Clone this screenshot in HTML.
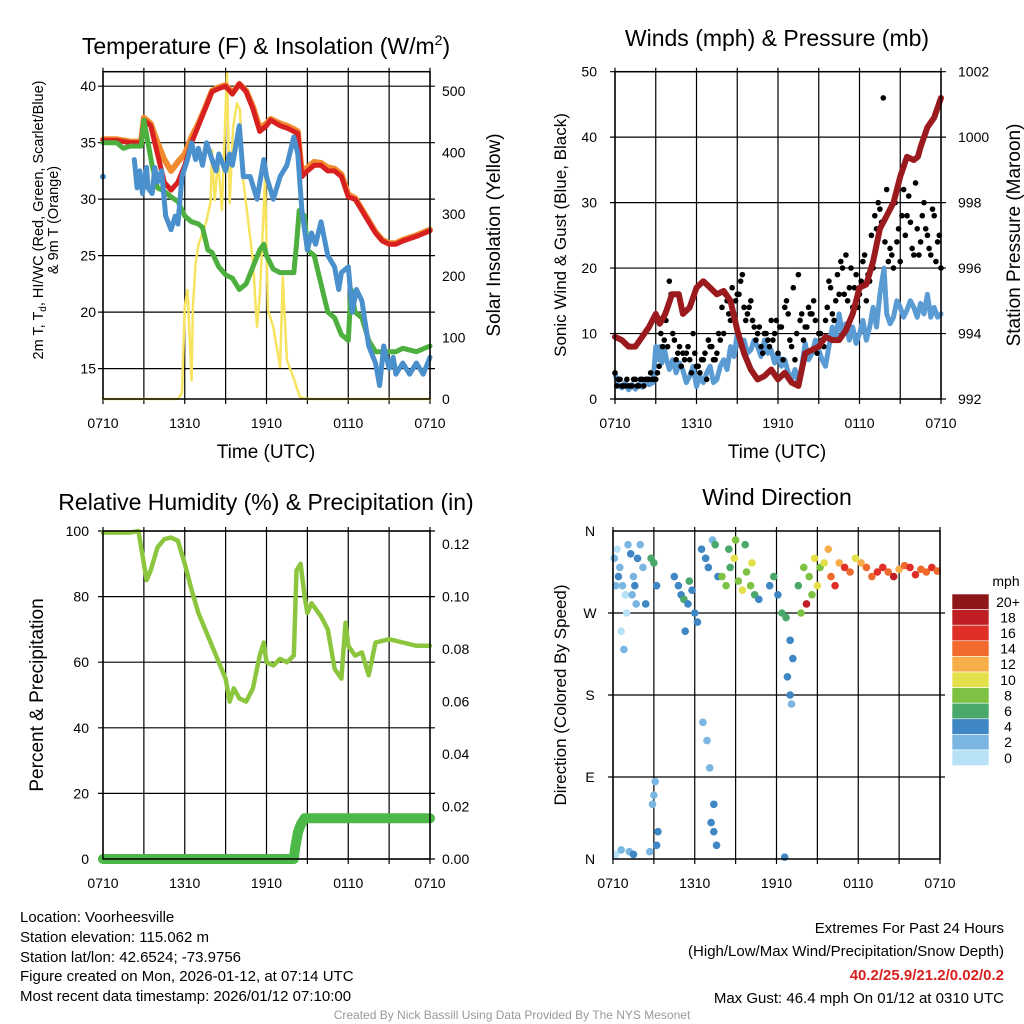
<!DOCTYPE html>
<html><head><meta charset="utf-8">
<style>
html,body{margin:0;padding:0;background:#fff;}
svg{display:block;font-family:"Liberation Sans",sans-serif;}
</style></head>
<body>
<svg id="fig" width="1024" height="1024" viewBox="0 0 1024 1024" xmlns="http://www.w3.org/2000/svg">
<rect width="1024" height="1024" fill="#fff"/>
<text x="266" y="54" font-size="23" text-anchor="middle">Temperature (F) &amp; Insolation (W/m<tspan font-size="14" dy="-9">2</tspan><tspan dy="9">)</tspan></text>
<text x="777" y="46" font-size="23" text-anchor="middle">Winds (mph) &amp; Pressure (mb)</text>
<text x="266" y="510" font-size="23" text-anchor="middle">Relative Humidity (%) &amp; Precipitation (in)</text>
<text x="777" y="505" font-size="23" text-anchor="middle">Wind Direction</text>
<text x="266" y="458" font-size="19" text-anchor="middle">Time (UTC)</text>
<text x="777" y="458" font-size="19" text-anchor="middle">Time (UTC)</text>
<text transform="translate(43,220) rotate(-90)" font-size="14.5" text-anchor="middle">2m T, T<tspan font-size="10" dy="3">d</tspan><tspan dy="-3">, HI/WC (Red, Green, Scarlet/Blue)</tspan></text>
<text transform="translate(58,220) rotate(-90)" font-size="14.5" text-anchor="middle">&amp; 9m T (Orange)</text>
<text transform="translate(500,235) rotate(-90)" font-size="19" text-anchor="middle">Solar Insolation (Yellow)</text>
<text transform="translate(566,235) rotate(-90)" font-size="17" text-anchor="middle">Sonic Wind &amp; Gust (Blue, Black)</text>
<text transform="translate(1020,235) rotate(-90)" font-size="19" text-anchor="middle">Station Pressure (Maroon)</text>
<text transform="translate(43,695) rotate(-90)" font-size="19" text-anchor="middle">Percent &amp; Precipitation</text>
<text transform="translate(566,695) rotate(-90)" font-size="17" text-anchor="middle">Direction (Colored By Speed)</text>
<g font-size="15">
<text x="20" y="922">Location: Voorheesville</text>
<text x="20" y="942">Station elevation: 115.062 m</text>
<text x="20" y="962">Station lat/lon: 42.6524; -73.9756</text>
<text x="20" y="981">Figure created on Mon, 2026-01-12, at 07:14 UTC</text>
<text x="20" y="1001">Most recent data timestamp: 2026/01/12 07:10:00</text>
</g>
<g font-size="15" text-anchor="end">
<text x="1004" y="933">Extremes For Past 24 Hours</text>
<text x="1004" y="956">(High/Low/Max Wind/Precipitation/Snow Depth)</text>
<text x="1004" y="980" fill="#d7201f" font-weight="bold">40.2/25.9/21.2/0.02/0.2</text>
<text x="1004" y="1003">Max Gust: 46.4 mph On 01/12 at 0310 UTC</text>
</g>
<text x="512" y="1019" font-size="12" fill="#999" text-anchor="middle">Created By Nick Bassill Using Data Provided By The NYS Mesonet</text>
</svg>
<script>
// ---- Temperature panel data ----
const redT = [0,35.2, 1,35.2, 2,35.0, 2.8,35.0, 3,37.0, 3.5,36.5, 4,34.0, 4.5,31.5, 5,30.8, 5.5,31.5, 6,33.0, 6.5,35.0, 7,36.5, 7.5,38.0, 8,39.5, 8.5,39.8, 9,40.0, 9.5,39.3, 10,40.2, 10.5,39.5, 11,38.0, 11.5,36.0, 12,36.5, 12.3,37.0, 13,36.5, 13.5,36.3, 14,36.0, 14.3,35.8, 14.6,32.0, 15,32.5, 15.5,33.0, 16,33.0, 16.5,32.5, 17,32.5, 17.5,32.0, 18,30.2, 18.5,30.0, 19,29.0, 19.5,28.0, 20,27.0, 20.5,26.3, 21,26.0, 21.5,26.0, 22,26.3, 23,26.7, 24,27.2];
const orangeT = [0,35.3, 1,35.3, 2,35.1, 2.8,35.1, 3,37.2, 3.5,36.7, 4,35.0, 4.5,33.5, 5,32.5, 5.5,33.3, 6,34.0, 6.5,35.5, 7,36.7, 7.5,38.1, 8,39.6, 8.5,39.9, 9,40.1, 9.5,39.4, 10,40.2, 10.5,39.6, 11,38.2, 11.5,36.3, 12,36.7, 12.3,37.1, 13,36.7, 13.5,36.5, 14,36.2, 14.3,36.0, 14.6,32.3, 15,32.8, 15.5,33.3, 16,33.2, 16.5,32.8, 17,32.7, 17.5,32.2, 18,30.4, 18.5,30.1, 19,29.1, 19.5,28.1, 20,27.1, 20.5,26.4, 21,26.1, 21.5,26.1, 22,26.4, 23,26.8, 24,27.3];
const greenTd = [0,35.0, 1,35.0, 1.5,34.5, 2,34.7, 2.8,34.7, 3,37.0, 3.3,35.0, 3.6,33.0, 4,31.0, 4.5,30.7, 5,30.2, 5.5,29.8, 6,28.5, 6.5,28.0, 7,27.8, 7.3,27.5, 7.7,25.5, 8,25.3, 8.5,24.0, 9,23.3, 9.5,23.0, 10,22.0, 10.5,22.5, 11,24.0, 11.5,25.5, 11.8,26.0, 12,25.0, 12.5,23.8, 13,23.5, 13.5,23.5, 14,23.5, 14.2,26.0, 14.4,29.0, 14.8,28.5, 15,25.5, 15.5,25.0, 16,22.5, 16.5,20.0, 17,19.5, 17.5,18.0, 18,17.5, 18.2,22.0, 18.5,20.0, 19,19.5, 19.5,17.5, 20,16.5, 20.5,16.5, 21,16.5, 21.5,16.5, 22,16.8, 23,16.5, 24,17.0];
const blueHI = [2.3,33.5, 2.5,31.0, 2.7,32.5, 2.9,30.5, 3,31.5, 3.2,32.8, 3.3,31.0, 3.6,30.5, 3.8,32.8, 4,31.5, 4.3,32.5, 4.6,28.5, 5,27.3, 5.3,28.5, 5.5,27.8, 5.8,32.0, 6.2,33.5, 6.5,35.0, 6.8,33.5, 7,34.5, 7.3,33.0, 7.6,35.0, 8,33.5, 8.3,32.5, 8.5,34.0, 9,32.5, 9.3,34.0, 9.5,33.0, 10,36.5, 10.3,32.0, 10.8,32.0, 11.3,30.0, 11.8,33.5, 12,32.0, 12.5,30.0, 13,32.0, 13.5,33.0, 14,35.5, 14.3,34.0, 14.6,29.0, 15,25.5, 15.3,27.0, 15.6,26.0, 16,28.0, 16.5,25.0, 17,24.0, 17.3,22.0, 17.5,23.5, 18,24.0, 18.3,20.0, 18.6,22.0, 19,21.0, 19.5,17.0, 20,15.5, 20.3,13.5, 20.6,17.0, 21,15.0, 21.3,16.0, 21.5,14.5, 22,15.5, 22.5,14.5, 23,15.5, 23.5,14.5, 24,16.0];
const blueHIStart = [0, 32.0];
const solar = [0,0, 5.5,0, 5.8,10, 6.0,150, 6.2,177, 6.5,30, 6.6,150, 6.8,220, 7.0,250, 7.3,270, 7.6,290, 7.9,320, 8.0,404, 8.2,323, 8.45,388, 8.73,307, 9.1,530, 9.3,318, 9.55,441, 9.83,480, 10.05,470, 10.27,360, 11.0,225, 11.3,117, 11.52,172, 11.9,360, 12.1,145, 12.5,117, 13.0,52, 13.2,198, 13.5,63, 13.95,36, 14.46,3, 15,0, 24,0];
const tempTicks = [15,20,25,30,35,40];
const solarTicks = [0,100,200,300,400,500];
const timeTickLabels = ["0710","1310","1910","0110","0710"];

// ---- Winds panel data ----
const pressure = [0,993.9, 0.5,993.8, 1,993.6, 1.5,993.6, 2,993.9, 2.5,994.2, 3,994.6, 3.3,994.3, 3.7,994.6, 4.2,995.2, 4.7,995.2, 5,994.6, 5.5,994.8, 6,995.4, 6.5,995.6, 7,995.4, 7.5,995.2, 8,995.3, 8.5,995.0, 9,994.1, 9.5,993.4, 10,992.9, 10.5,992.6, 11,992.7, 11.5,992.9, 12,992.6, 12.5,992.8, 13,992.5, 13.5,992.4, 14,993.4, 14.5,993.5, 15,993.6, 15.5,993.9, 16,993.8, 16.5,993.8, 17,994.1, 17.5,994.6, 18,995.4, 18.5,995.5, 19,996.2, 19.5,997.2, 20,997.6, 20.5,998.0, 21,998.8, 21.5,999.4, 22,999.3, 22.3,999.4, 22.5,999.7, 23,1000.3, 23.5,1000.6, 24,1001.2];
const windSpd = [0,3.9, 0.25,2, 0.5,1.7, 0.75,2.5, 1,1.4, 1.25,2.2, 1.5,1.5, 1.75,2.3, 2,1.8, 2.25,2.8, 2.5,2.2, 2.8,2.5, 3,8, 3.15,6, 3.3,8, 3.45,5.5, 3.6,8, 3.8,6, 4,4.5, 4.25,6, 4.5,4, 4.75,5.5, 5,4.4, 5.25,2.5, 5.5,3.5, 5.75,5, 6,1.9, 6.25,3.5, 6.5,2.5, 6.75,4, 7,5, 7.25,2.5, 7.5,3, 7.75,5, 8,6, 8.25,4.5, 8.5,8, 8.75,6.5, 9,10, 9.25,8, 9.5,9, 9.75,7, 10,7.5, 10.25,9, 10.5,8, 10.75,6.5, 11,9, 11.25,7, 11.5,7.5, 11.75,5.5, 12,7, 12.25,5, 12.5,6, 12.75,4, 13,3, 13.25,4.5, 13.5,2.4, 13.75,5, 14,8.5, 14.25,6, 14.5,7, 14.75,9, 15,7.5, 15.25,6, 15.5,5, 15.75,8, 16,11, 16.25,9, 16.5,13, 16.75,10, 17,11.5, 17.25,9, 17.5,11, 17.75,8.5, 18,10, 18.25,12, 18.5,9, 18.75,11, 19,14, 19.25,11, 19.5,16, 19.8,20, 20,13, 20.25,11.5, 20.5,12.5, 20.75,15, 21,14, 21.25,12.5, 21.5,13.6, 21.75,15, 22,14, 22.25,12.5, 22.5,14.6, 22.75,13, 23,16, 23.25,12.5, 23.5,14, 23.75,12.5, 24,13];
const gustA = [4,3,2,2,2,2,3,2,3, 3,3,3,3,5,8, 12,18,10,6,8,7, 7,6,10,5,4,6,3,8, 6,7,9,10,15,12,13,16, 18,14,13,15,11,10,8,10, 9,12,10,7,11,14,13,8, 6,19,13,11,14,13,12,10, 9,12,18,13,15,16,20,22, 17,14,19,16,21,15,18,20, 26,29,46,32,23,20,24,21, 32,28,27,22,26,24,30,25, 22,28,24,20];
const gustB = [2,3,2,3,2,3,2,3, 2,3,4,3,4,10, 9,8,16,9,7,5, 6,8,4,7,5,6,7,9, 8,6,10,14,16,13,17,15, 16,19,12,14,12,9,11,7, 10,8,9,12,11,6,15,9, 17,10,12,9,11,13,15,7, 10,8,14,17,12,19,21,16, 15,20,17,14,18,22,19,25, 28,30,27,24,21,22,30,26, 28,25,31,23,33,22,28,26, 23,29,21,25];
const windTicks = [0,10,20,30,40,50];
const pressTicks = [992,994,996,998,1000,1002];

// ---- RH panel data ----
const rh = [0,99.5, 1,99.5, 2,99.5, 2.6,100, 3,90, 3.2,85, 3.5,88, 4,95, 4.5,97.5, 5,98, 5.5,97, 6,90, 6.5,82, 7,75, 7.5,70, 8,65, 8.5,60, 9,55, 9.3,48, 9.6,52, 10,49, 10.5,48, 11,52, 11.5,62, 11.8,66, 12,60, 12.5,59, 13,61, 13.5,60, 14,62, 14.2,88, 14.5,90, 14.8,80, 15,75, 15.3,78, 16,74, 16.5,70, 17,58, 17.5,55, 17.8,72, 18,65, 18.5,62, 19,63, 19.5,56, 20,66, 21,67, 22,66, 23,65, 24,65];
const precip = [0,0, 14.0,0, 14.1,0.004, 14.3,0.01, 14.5,0.013, 14.8,0.0155, 24,0.0155];
const rhTicks = [0,20,40,60,80,100];
const precipTicks = [0,0.02,0.04,0.06,0.08,0.10,0.12];

// ---- Wind direction panel data ----
const dirTimes = [0.1,0.3,0.5,0.7,0.9,1.1,1.3,1.5,1.7,0.6,0.8,1.0,0.4,0.2,1.4,1.6,1.8,2.0,2.2,2.4,0.2,0.6,1.2,1.5, 2.8,3.0,3.2,3.1,2.9,3.3,2.7,3.0,3.2, 4.5,4.8,5.0,5.2,5.5,5.8,6.0,6.2,5.3,5.6, 6.5,6.8,7.0,7.3,7.5,7.7,6.6,6.9,7.2,7.4,7.6,7.1,7.4, 8.0,8.3,8.6,8.9,9.2,9.5,9.8,10.1,10.4,10.7,8.5,9.0,9.7,10.2, 11.5,11.8,12.1,12.4,12.7,12.6,13.0,13.2,13.0,13.1,12.8, 13.6,14.0,14.4,14.8,15.2,15.5,15.8,16.0,16.3,14.2,14.6,15.0,13.8, 16.6,17.0,17.4,17.8,18.2,18.6,19.0,19.4,19.8,20.2,20.6,21.0,21.4,21.8,22.2,22.6,23.0,23.4,23.8];
const dirValues = [330,340,320,300,290,345,335,310,280,250,230,270,310,300,290,300,330,345,320,280,5,10,8,5, 330,325,300,85,60,30,8,70,15, 310,300,290,285,280,295,270,260,250,305, 340,330,320,350,345,310,150,130,40,30,15,100,60, 310,300,320,330,305,295,315,300,290,285,340,350,345,325, 300,310,290,270,265,2,240,220,180,170,200, 300,320,310,330,320,325,340,310,300,280,290,300,270, 325,320,315,330,325,320,310,315,320,315,310,318,322,320,312,318,315,320,316];
const dirSpeeds = [1,0,2,1,0,2,3,1,2,0,1,0,3,1,2,3,4,2,1,3,0,1,2,3, 5,6,4,2,1,3,2,1,4, 4,3,4,5,3,4,3,4,4,5, 4,3,4,2,5,4,1,1,3,4,3,2,4, 7,8,6,9,8,10,7,8,6,4,6,7,5,9, 4,5,3,6,5,3,4,3,3,2,4, 6,8,7,9,8,10,12,14,16,18,8,10,7, 12,16,14,10,12,14,13,15,16,14,18,12,14,15,16,14,13,16,14];
const dirTickLabels = ["N","E","S","W","N"];
const speedBins = ["0","2","4","6","8","10","12","14","16","18","20+"];
const speedColors = ["#b7e1f7","#7bb6e2","#3e86c4","#49a86a","#7dc242","#e3e04a","#f7ad48","#ef6a2c","#df2f27","#be1e24","#8e1518"];

// ---- drawing ----
const NS = "http://www.w3.org/2000/svg";
const svg = document.getElementById("fig");
function mk(tag, attrs, parent) {
  const e = document.createElementNS(NS, tag);
  for (const k in attrs) e.setAttribute(k, attrs[k]);
  (parent || svg).appendChild(e);
  return e;
}
function panel(x0, y0, w, h) {
  return {x0, y0, w, h, x: t => x0 + t / 24 * w};
}
function lin(v0, v1, p0, p1) { return v => p0 + (v - v0) / (v1 - v0) * (p1 - p0); }
function pathFrom(arr, xf, yf) {
  let d = "";
  for (let i = 0; i < arr.length; i += 2) d += (i ? "L" : "M") + xf(arr[i]).toFixed(1) + "," + yf(arr[i + 1]).toFixed(1);
  return d;
}
function frame(P, name, hLines) {
  const g = mk("g", {});
  
  
  for (let i = 0; i <= 8; i++) {
    const x = P.x0 + i * P.w / 8;
    mk("line", {x1: x, x2: x, y1: P.y0 - 4, y2: P.y0 + P.h + 5, stroke: "#000", "stroke-width": 1.2}, g);
  }
  hLines.forEach(y => mk("line", {x1: P.x0 - 5, x2: P.x0 + P.w + 5, y1: y, y2: y, stroke: "#000", "stroke-width": 1.2}, g));
  for (let i = 0; i < 5; i++) {
    const t = mk("text", {x: P.x0 + i * P.w / 4, y: P.y0 + P.h + 29, "font-size": 14, "text-anchor": "middle"});
    
    
    t.textContent = timeTickLabels[i];
  }
  return g;
}
function border(P, name) {
  const r = mk("rect", {x: P.x0, y: P.y0, width: P.w, height: P.h, fill: "none", stroke: "#000", "stroke-width": 1.5});
  
  
}
function yLabels(vals, yf, x, anchor, name, fmt) {
  vals.forEach(v => {
    const t = mk("text", {x: x, y: yf(v) + 5, "font-size": 14, "text-anchor": anchor});
    
    
    t.textContent = fmt ? fmt(v) : v;
  });
}
function series(arr, xf, yf, color, width, name, extra) {
  const p = mk("path", Object.assign({d: pathFrom(arr, xf, yf), fill: "none", stroke: color, "stroke-width": width, "stroke-linejoin": "round", "stroke-linecap": "round"}, extra || {}));
  
  
  return p;
}

// Panel 1: temperature
const P1 = panel(103, 71.7, 327, 327.3);
const yT = lin(15, 40, 368.6, 86.2);
const yS = lin(0, 500, 399, 91);
frame(P1, "temp", tempTicks.map(yT));
series(solar, P1.x, yS, "#f7e35e", 2.5, "solar-insolation-line");
series(orangeT, P1.x, yT, "#f28a30", 6, "temp-9m-line");
series(redT, P1.x, yT, "#d7201f", 5, "temp-2m-line");
series(greenTd, P1.x, yT, "#4caf3e", 5, "dewpoint-line");
series(blueHI, P1.x, yT, "#4a90cd", 5, "heat-index-windchill-line");
{
  const c = mk("circle", {cx: P1.x(blueHIStart[0]), cy: yT(blueHIStart[1]), r: 3, fill: "#4a90cd"});
  
  
}
border(P1, "temp");
yLabels(tempTicks, yT, 96, "end", "temp-y-tick-label");
yLabels(solarTicks, yS, 442, "start", "solar-y-tick-label");

// Panel 2: winds
const P2 = panel(615, 71.7, 326, 327.3);
const yW = lin(0, 50, 399, 71.7);
const yP = lin(992, 1002, 399, 71.7);
frame(P2, "winds", windTicks.map(yW));
series(windSpd, P2.x, yW, "#5a9bd4", 5, "sonic-wind-line");
gustA.forEach((v, i) => {
  const c = mk("circle", {cx: P2.x(i * 0.25), cy: yW(v), r: 2.8, fill: "#000"});
  
  
});
gustB.forEach((v, i) => {
  const c = mk("circle", {cx: P2.x(0.125 + i * 0.25), cy: yW(v), r: 2.8, fill: "#000"});
  
  
});
series(pressure, P2.x, yP, "#9b1a1e", 6, "pressure-line");
border(P2, "winds");
yLabels(windTicks, yW, 597, "end", "wind-y-tick-label");
yLabels(pressTicks, yP, 958, "start", "pressure-y-tick-label");

// Panel 3: RH
const P3 = panel(103, 531, 327, 328);
const yR = lin(0, 100, 859, 531);
const yPr = lin(0, 0.12, 859, 544);
frame(P3, "rh", rhTicks.map(yR));
series(rh, P3.x, yR, "#8cc63f", 4.5, "relative-humidity-line");
series(precip, P3.x, yPr, "#4cb847", 10, "precipitation-line");
border(P3, "rh");
yLabels(rhTicks, yR, 89, "end", "rh-y-tick-label");
yLabels(precipTicks, yPr, 442, "start", "precip-y-tick-label", v => v.toFixed(2));

// Panel 4: wind direction
const P4 = panel(613, 531, 327, 328);
const yD = lin(0, 360, 859, 531);
frame(P4, "dir", [90, 180, 270].map(yD));
dirTimes.forEach((t, i) => {
  const bin = Math.min(10, Math.max(0, Math.round(dirSpeeds[i] / 2)));
  const c = mk("circle", {cx: P4.x(t), cy: yD(dirValues[i]), r: 3.8, fill: speedColors[bin]});
  
  
});
border(P4, "dir");
yLabels([0, 90, 180, 270, 360], yD, 590, "middle", "dir-y-tick-label", v => dirTickLabels[v / 90]);
// colorbar
{
  const t = mk("text", {x: 1006, y: 586, "font-size": 14, "text-anchor": "middle"});
  
  
  t.textContent = "mph";
  const top = 594, bh = 15.6;
  for (let k = 0; k < speedBins.length; k++) {
    const idx = speedBins.length - 1 - k;
    const r = mk("rect", {x: 952, y: top + k * bh, width: 37, height: bh, fill: speedColors[idx], stroke: "#fff", "stroke-width": 0.6});
    
    
    const l = mk("text", {x: 1008, y: top + k * bh + bh / 2 + 5, "font-size": 14, "text-anchor": "middle"});
    
    
    l.textContent = speedBins[idx];
  }
}
</script>
</body></html>
